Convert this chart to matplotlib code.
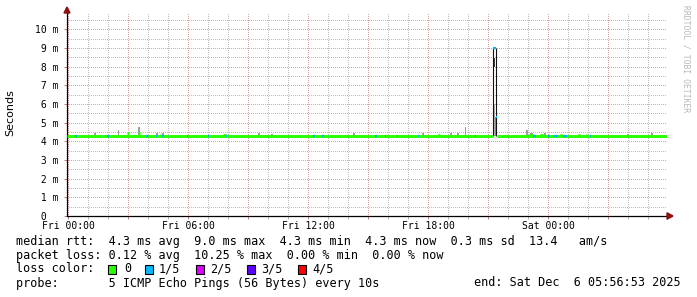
import matplotlib
matplotlib.use('Agg')
import matplotlib.pyplot as plt
from matplotlib.patches import Rectangle, Polygon

W, H, DPI = 697, 297, 100

# graph spans 30 h, ending Sat 05:56:53; hours relative to Fri 00:00
t_start = -3.1 / 60
t_end = t_start + 30.0
y_top = 10.87

xtick_hours = [0, 3, 6, 9, 12, 15, 18, 21, 24, 27]
xtick_labels = ['Fri 00:00', '', 'Fri 06:00', '', 'Fri 12:00', '',
                'Fri 18:00', '', 'Sat 00:00', '']
xminor_hours = [1, 2, 4, 5, 7, 8, 10, 11, 13, 14, 16, 17, 19, 20, 22, 23, 25, 26, 28, 29]
ytick_ms = [0, 1, 2, 3, 4, 5, 6, 7, 8, 9, 10]
ytick_labels = [' 0', ' 1 m', ' 2 m', ' 3 m', ' 4 m', ' 5 m', ' 6 m', ' 7 m',
                ' 8 m', ' 9 m', '10 m']
yminor_ms = [0.5, 1.5, 2.5, 3.5, 4.5, 5.5, 6.5, 7.5, 8.5, 9.5, 10.5]

loss_colors = ['#26ff00', '#00b8ff', '#dd00ff', '#5e00ff', '#ff0000']
loss_names = ['0', '1/5', '2/5', '3/5', '4/5']

# median rtt, baseline (loss 0), broken around the spike
base_from = [t_start, 21.44]
base_to = [21.25, 29.93]
base_ms = [4.3, 4.3]

# short stretches where the median sat a little higher (loss 0)
bump_from = [2.95, 3.50, 4.60, 7.75, 18.50, 23.05, 23.60, 24.60, 25.50, 25.90]
bump_to = [3.05, 3.58, 4.65, 7.90, 18.60, 23.25, 23.75, 24.70, 25.60, 25.95]
bump_ms = [4.45, 4.42, 4.36, 4.36, 4.36, 4.36, 4.36, 4.36, 4.36, 4.36]

# stretches with 1/5 loss
blue_from = [0.35, 1.95, 3.90, 4.40, 4.70, 5.95, 7.00, 7.90, 12.25, 12.70, 15.35,
             15.85, 16.45, 17.50, 20.35, 23.25, 24.00, 24.30, 24.75, 26.10, 21.27, 21.40]
blue_to = [0.43, 2.05, 4.00, 4.45, 4.80, 6.00, 7.05, 7.95, 12.35, 12.80, 15.45,
           15.90, 16.50, 17.55, 20.40, 23.40, 24.10, 24.50, 24.95, 26.15, 21.40, 21.44]
blue_ms = [4.3] * 20 + [9.0, 5.3]

# median jumps at the spike
jump_h = [21.27, 21.42]
jump_lo = [4.3, 4.3]
jump_hi = [9.0, 9.0]

# smoke (spread of the pings): centre hour, width hour, low, high, shade
smoke_h = [1.35, 2.52, 3.55, 4.45, 4.75, 9.55, 10.2, 14.3, 17.75, 19.15, 19.5,
           19.88, 22.95, 23.15, 23.85, 28.0, 29.2, 21.33, 21.37, 21.33]
smoke_w = [0.06, 0.09, 0.1, 0.06, 0.06, 0.06, 0.06, 0.06, 0.06, 0.1, 0.06,
           0.06, 0.1, 0.15, 0.06, 0.06, 0.06, 0.05, 0.04, 0.06]
smoke_lo = [4.3] * 17 + [4.3, 4.3, 8.0]
smoke_hi = [4.42, 4.63, 4.74, 4.44, 4.42, 4.42, 4.40, 4.42, 4.44, 4.47, 4.42,
            4.76, 4.63, 4.44, 4.42, 4.40, 4.42, 6.0, 5.3, 8.45]
smoke_c = ['#9c9c9c'] * 17 + ['#b4b4b4', '#8c8c8c', '#404040']

legend_lines = [
    'median rtt:  4.3 ms avg  9.0 ms max  4.3 ms min  4.3 ms now  0.3 ms sd  13.4   am/s',
    'packet loss: 0.12 % avg  10.25 % max  0.00 % min  0.00 % now',
    'loss color:',
    'probe:       5 ICMP Echo Pings (56 Bytes) every 10s',
]
end_text = 'end: Sat Dec  6 05:56:53 2025'

MONO = 'DejaVu Sans Mono'


def fx(x):
    return x / W


def fy(y):
    return 1 - y / H


fig = plt.figure(figsize=(W / DPI, H / DPI), dpi=DPI)
fig.patch.set_facecolor('white')
ax = fig.add_axes([fx(67), fy(216), 600 / W, (216 - 13) / H])
ax.set_xlim(t_start, t_end)
ax.set_ylim(0, y_top)

# grid, dotted 1px on / 1px off
dot = dict(lw=0.72, ls=(0.5, (1, 1)), snap=True, zorder=1)
for h in xminor_hours:
    ax.axvline(h, color='#bcbcbc', **dot)
for h in xtick_hours:
    ax.axvline(h, color='#dea2a2', **dot)
for v in yminor_ms:
    ax.axhline(v, color='#bcbcbc', **dot)
for v in ytick_ms[1:]:
    ax.axhline(v, color='#dea2a2', **dot)

# smoke
ax.bar(smoke_h, [hi - lo for lo, hi in zip(smoke_lo, smoke_hi)], bottom=smoke_lo,
       width=smoke_w, color=smoke_c, linewidth=0, zorder=2)

# median
ax.vlines(jump_h, jump_lo, jump_hi, colors='#111111', lw=0.8, zorder=3)
ax.hlines(base_ms, base_from, base_to, colors=loss_colors[0], lw=2.1, zorder=4)
ax.hlines(bump_ms, bump_from, bump_to, colors=loss_colors[0], lw=2.1, zorder=4)
ax.hlines(blue_ms, blue_from, blue_to, colors=loss_colors[1], lw=1.6, zorder=5)

# axes
for s in ['top', 'right']:
    ax.spines[s].set_visible(False)
for s in ['left', 'bottom']:
    ax.spines[s].set_color('#000000')
    ax.spines[s].set_linewidth(0.9)
ax.set_xticks(xtick_hours)
ax.set_xticklabels(xtick_labels, fontfamily=MONO, fontsize=7)
ax.set_xticks(xminor_hours, minor=True)
ax.set_yticks(ytick_ms)
ax.set_yticklabels(ytick_labels, fontfamily=MONO, fontsize=7, ha='left')
ax.set_yticks(yminor_ms, minor=True)
ax.tick_params(axis='x', which='major', length=2, width=0.72, color='#c08080', pad=1.5)
ax.tick_params(axis='x', which='minor', length=2, width=0.72, color='#b0b0b0')
ax.tick_params(axis='y', which='major', length=2, width=0.72, color='#c08080', pad=20.8)
ax.tick_params(axis='y', which='minor', length=0)

fig.text(fx(10), fy(113), 'Seconds', fontsize=8, rotation=90, ha='center', va='center')

# axis arrows
arrow_c = '#8b1010'
fig.add_artist(Polygon([(fx(64), fy(13)), (fx(70), fy(13)), (fx(67), fy(7))],
                       closed=True, color=arrow_c, transform=fig.transFigure))
fig.add_artist(Polygon([(fx(667), fy(212.8)), (fx(667), fy(219.2)), (fx(673), fy(216))],
                       closed=True, color=arrow_c, transform=fig.transFigure))

# watermark
fig.text(fx(686), fy(5), 'RRDTOOL / TOBI OETIKER', fontsize=5.8, fontfamily=MONO,
         color='#b8b8b8', rotation=270, ha='center', va='top')

# legend
line_y = [241, 255, 269, 283]
for txt, y in zip(legend_lines, line_y):
    fig.text(fx(16), fy(y), txt, fontsize=8.5, fontfamily=MONO, ha='left', va='center')
fig.text(fx(681), fy(283), end_text, fontsize=8.5, fontfamily=MONO, ha='right', va='center')

box_x = [108, 145, 196, 247, 298]
label_x = [124, 159, 210, 261, 312]
for bx, lx, c, name in zip(box_x, label_x, loss_colors, loss_names):
    fig.add_artist(Rectangle((fx(bx), fy(273.5)), 8 / W, 9 / H, facecolor=c,
                             edgecolor='#000000', lw=0.8, transform=fig.transFigure))
    fig.text(fx(lx), fy(269), name, fontsize=8.5, fontfamily=MONO, ha='left', va='center')

fig.savefig('out.png', dpi=DPI, facecolor='white')
